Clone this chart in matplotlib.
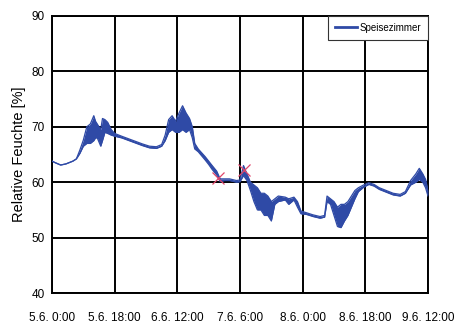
import numpy as np
import matplotlib
matplotlib.use("Agg")
import matplotlib.pyplot as plt

plt.rcParams['font.family'] = ['Liberation Sans', 'DejaVu Sans']

# hours since 5.6. 0:00, with lower / upper envelope of the humidity trace
hours = [0, 1, 2.5, 4, 6, 7, 8, 9, 10, 11, 12, 12.5, 13, 14, 14.5, 15.2, 16, 17, 18,
         20, 23, 26, 28, 30, 31.5, 32.5, 33.5, 34.5, 35.5, 36.5, 37.5, 38.5, 39.5,
         40.3, 41, 42, 44, 45, 46, 47.3, 48.3, 49.5, 51, 53, 54, 55, 56, 57, 58, 59,
         60, 61, 62, 63, 64, 65, 67, 68, 69.5, 70.5, 71.5, 73, 75, 77, 78.3, 79, 80,
         81, 82, 83, 84, 85, 86, 87, 88, 89.5, 91, 92.5, 94, 96, 98, 100, 101.5, 103,
         104.5, 105.5, 106.5, 107.3, 108]
rh_low = [63.8, 63.5, 63.1, 63.3, 63.8, 64.2, 65.2, 66.5, 67.0, 67.0, 67.5, 68.0, 68.0,
          66.5, 67.5, 69.0, 68.8, 68.5, 68.3, 68.0, 67.3, 66.6, 66.2, 66.1, 66.5, 67.5,
          69.0, 69.5, 69.0, 69.0, 69.5, 69.0, 69.5, 68.0, 66.0, 65.5, 64.0, 63.2, 62.3,
          61.3, 60.1, 60.3, 60.3, 60.0, 60.1, 61.2, 60.3, 58.5, 56.5, 55.0, 55.0, 54.0,
          54.0, 53.0, 56.0, 56.5, 56.8, 56.0, 56.8, 55.5, 54.3, 54.2, 53.8, 53.5, 53.7,
          56.5, 56.0, 54.0, 52.0, 51.8, 53.0, 54.0, 55.5, 57.0, 58.3, 59.1, 59.6, 59.3,
          58.7, 58.2, 57.7, 57.5, 58.0, 59.5, 60.0, 60.5, 60.0, 59.0, 57.5]
rh_high = [63.8, 63.5, 63.1, 63.3, 63.8, 64.2, 65.8, 67.6, 70.0, 70.5, 72.0, 71.0, 70.5,
           69.5, 71.5, 71.3, 70.8, 69.5, 68.8, 68.3, 67.6, 66.9, 66.5, 66.4, 66.8, 68.5,
           71.3, 72.0, 71.0, 72.5, 73.8, 72.5, 71.5, 70.0, 67.0, 66.0, 64.6, 63.8, 63.0,
           62.0, 60.6, 60.6, 60.6, 60.3, 60.4, 63.0, 61.5, 60.0, 59.5, 59.0, 58.0, 58.0,
           57.5, 56.5, 57.0, 57.5, 57.3, 57.0, 57.3, 56.5, 54.8, 54.5, 54.1, 53.8, 54.0,
           57.5, 57.0, 56.5, 55.5, 56.0, 56.0, 56.5, 57.5, 58.5, 59.0, 59.5, 59.9, 59.6,
           59.0, 58.5, 58.0, 57.8, 58.3, 60.3, 61.5, 62.5, 61.5, 60.5, 58.5]

# red marks on the trace
mark_hours = [47.8, 55.2]
mark_rh = [60.8, 62.2]

tick_hours = [0, 18, 36, 54, 72, 90, 108]
tick_labels = ['5.6. 0:00', '5.6. 18:00', '6.6. 12:00', '7.6. 6:00',
               '8.6. 0:00', '8.6. 18:00', '9.6. 12:00']

blue = '#2F4AA6'

fig = plt.figure(figsize=(4.54, 3.25), dpi=100)
ax = fig.add_axes([52 / 454, 1 - 293 / 325, 376 / 454, 277 / 325])

ax.fill_between(hours, rh_low, rh_high, color=blue, lw=0, zorder=3)
ax.plot(hours, rh_low, color=blue, lw=0.9, zorder=3)
ax.plot(hours, rh_high, color=blue, lw=0.9, zorder=3, label='Speisezimmer')
ax.plot(mark_hours, mark_rh, 'x', color='#E0456A', ms=8, mew=0.9, zorder=4)

ax.set_xlim(0, 108)
ax.set_ylim(40, 90)
ax.set_xticks(tick_hours)
ax.set_xticklabels(tick_labels)
ax.set_yticks(range(40, 91, 10))
ax.tick_params(length=0, labelsize=8.5)
ax.tick_params(axis='x', pad=14)
ax.tick_params(axis='y', pad=5)
ax.grid(True, color='black', lw=1.4)
ax.set_axisbelow(True)
for s in ax.spines.values():
    s.set_color('black')
    s.set_linewidth(1.4)

ax.set_ylabel('Relative Feuchte [%]', fontsize=10.5)

leg = ax.legend(loc='upper right', fontsize=7, frameon=True, fancybox=False,
                borderaxespad=0, borderpad=0.7, handlelength=2.2, framealpha=1,
                handletextpad=0.3)
leg.get_frame().set_edgecolor('#333333')
leg.get_frame().set_linewidth(0.8)
for h in leg.get_lines():
    h.set_linewidth(2)

fig.savefig('out.png', dpi=100)
